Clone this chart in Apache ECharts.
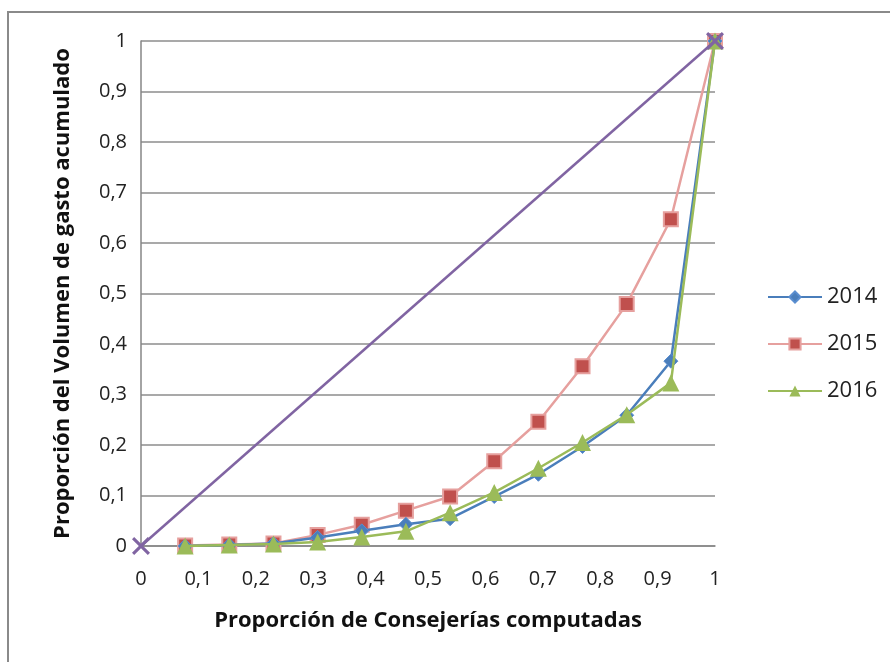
<!DOCTYPE html>
<html><head><meta charset="utf-8">
<script src="https://cdn.jsdelivr.net/npm/echarts@6/dist/echarts.min.js"></script>
<style>html,body{margin:0;padding:0;background:#fff}#c{width:890px;height:662px}</style>
</head><body><div id="c"></div>
<script>
const xProp = [0.0769, 0.1538, 0.2308, 0.3077, 0.3846, 0.4615, 0.5385, 0.6154, 0.6923, 0.7692, 0.8462, 0.9231, 1];
const s2014 = [0, 0.002, 0.005, 0.017, 0.03, 0.043, 0.054, 0.098, 0.142, 0.197, 0.259, 0.366, 1];
const s2015 = [0.001, 0.003, 0.005, 0.022, 0.042, 0.07, 0.098, 0.168, 0.246, 0.356, 0.479, 0.647, 1];
const s2016 = [0, 0.002, 0.004, 0.008, 0.018, 0.029, 0.066, 0.106, 0.154, 0.205, 0.26, 0.323, 1];
const diagX = [0, 1];
const diagY = [0, 1];
const seriesNames = ['2014', '2015', '2016'];

const pair = (xs, ys) => xs.map((x, i) => [x, ys[i]]);
const font = '"Open Sans", Lato, sans-serif';
const fmt = v => String(Math.round(v * 10) / 10).replace('.', ',');
const xMark = 'path://M0,1.2L1.2,0L5,3.8L8.8,0L10,1.2L6.2,5L10,8.8L8.8,10L5,6.2L1.2,10L0,8.8L3.8,5Z';

const chart = echarts.init(document.getElementById('c'));
chart.setOption({
  animation: false,
  backgroundColor: '#fff',
  graphic: [
    {type: 'polyline', shape: {points: [[8, 662], [8, 12], [890, 12]]}, style: {stroke: '#8a8a8a', lineWidth: 2, fill: null}}
  ],
  grid: {left: 141, top: 41, width: 574, height: 505},
  legend: {
    data: seriesNames, orient: 'vertical', left: 762, top: 281, itemGap: 25,
    itemWidth: 54, itemHeight: 14,
    textStyle: {fontFamily: font, fontSize: 22, color: '#222'}
  },
  xAxis: {
    type: 'value', min: 0, max: 1, interval: 0.1,
    name: 'Proporción de Consejerías computadas', nameLocation: 'middle', nameGap: 64,
    nameTextStyle: {fontFamily: font, fontSize: 22, fontWeight: 'bold', color: '#111'},
    axisLine: {show: true, lineStyle: {color: '#868686', width: 1.5}},
    axisTick: {show: false},
    splitLine: {show: false},
    axisLabel: {formatter: fmt, fontFamily: font, fontSize: 20, color: '#222', margin: 23}
  },
  yAxis: {
    type: 'value', min: 0, max: 1, interval: 0.1,
    name: 'Proporción del Volumen de gasto acumulado', nameLocation: 'middle', nameGap: 67,
    nameTextStyle: {fontFamily: font, fontSize: 22, fontWeight: 'bold', color: '#111'},
    axisLine: {show: true, lineStyle: {color: '#868686', width: 1.5}},
    axisTick: {show: false},
    splitLine: {show: true, lineStyle: {color: '#8c8c8c', width: 1.5}},
    axisLabel: {formatter: fmt, fontFamily: font, fontSize: 20, color: '#222', margin: 14}
  },
  series: [
    {name: seriesNames[0], type: 'line', data: pair(xProp, s2014), symbol: 'diamond', symbolSize: 14,
     lineStyle: {color: '#4A7EBB', width: 2.5}, itemStyle: {color: '#4A7EBB', borderColor: '#5B8ED0', borderWidth: 1}, z: 3},
    {name: seriesNames[1], type: 'line', data: pair(xProp, s2015), symbol: 'rect', symbolSize: 14,
     lineStyle: {color: '#E6A09E', width: 2.5}, itemStyle: {color: '#C0504D', borderColor: '#E6A09E', borderWidth: 2}, z: 2},
    {name: seriesNames[2], type: 'line', data: pair(xProp, s2016), symbol: 'triangle', symbolSize: 17,
     lineStyle: {color: '#9BBB59', width: 2.5}, itemStyle: {color: '#9BBB59'}, z: 4},
    {name: 'diag', type: 'line', data: pair(diagX, diagY), symbol: xMark, symbolSize: 18,
     lineStyle: {color: '#8064A2', width: 2.5}, itemStyle: {color: '#8064A2'}, z: 5}
  ]
});
</script></body></html>
